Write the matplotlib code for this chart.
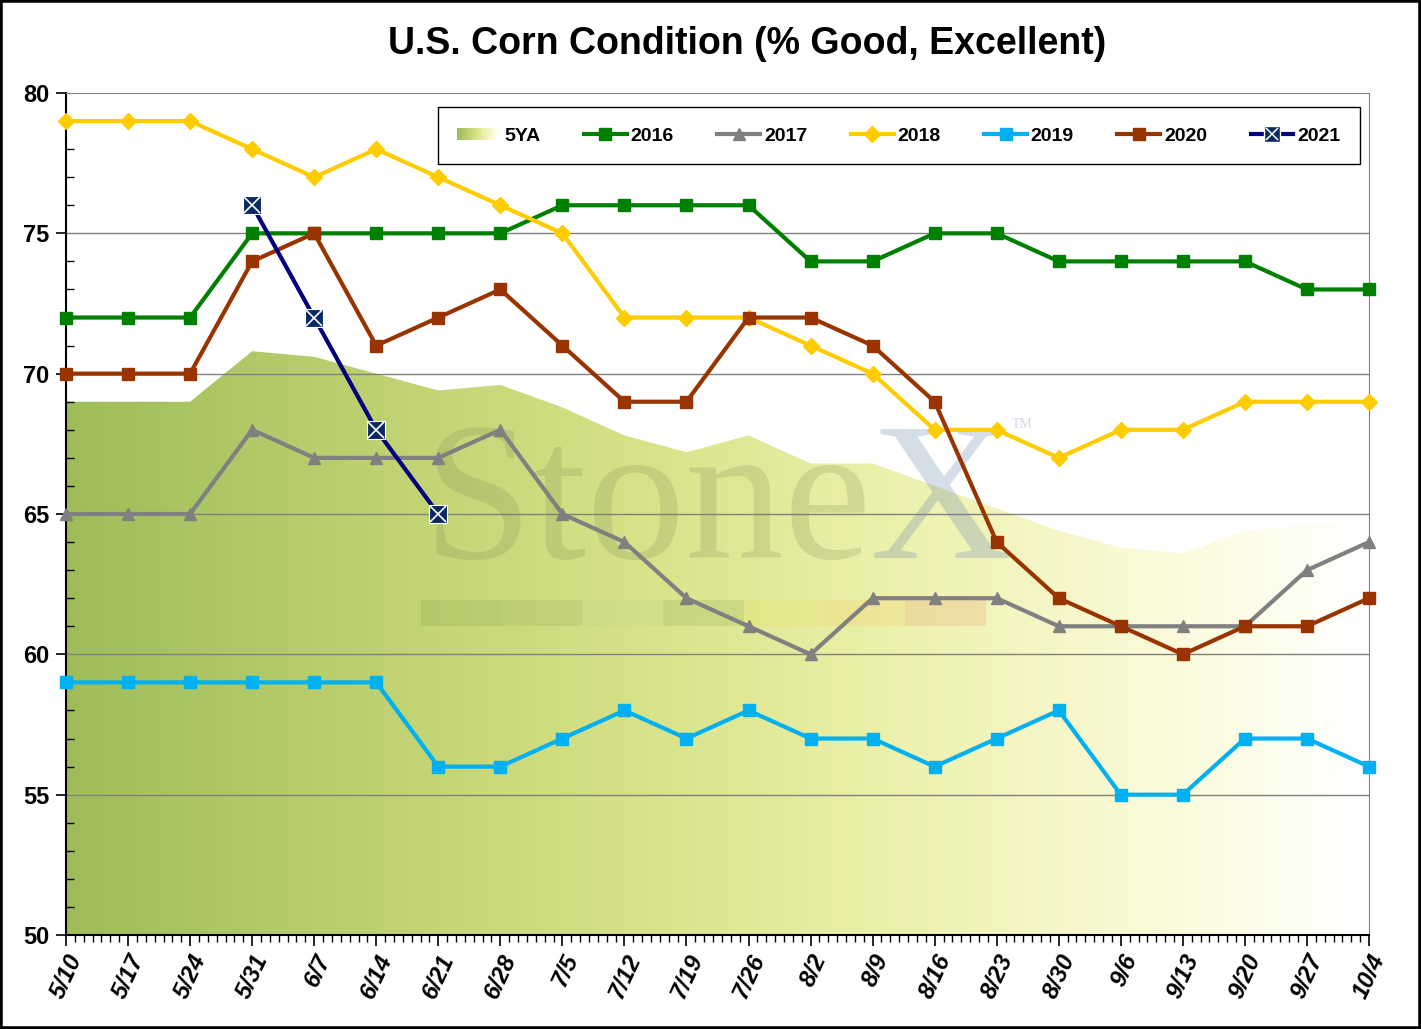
import numpy as np
import matplotlib
matplotlib.use("Agg")
import matplotlib.pyplot as plt
from matplotlib.colors import LinearSegmentedColormap
from matplotlib.patches import Rectangle, Polygon
from matplotlib.legend_handler import HandlerBase
from matplotlib.lines import Line2D
from matplotlib.ticker import MultipleLocator

plt.rcParams['font.family'] = ['Liberation Sans', 'DejaVu Sans']

# weekly dates (crop progress report)
weeks = ['5/10', '5/17', '5/24', '5/31', '6/7', '6/14', '6/21', '6/28', '7/5', '7/12', '7/19',
         '7/26', '8/2', '8/9', '8/16', '8/23', '8/30', '9/6', '9/13', '9/20', '9/27', '10/4']

# % good/excellent per year
avg_5y = [69.0, 69.0, 69.0, 70.8, 70.6, 70.0, 69.4, 69.6, 68.8, 67.8, 67.2,
          67.8, 66.8, 66.8, 66.0, 65.2, 64.4, 63.8, 63.6, 64.4, 64.6, 64.8]
y2016 = [72, 72, 72, 75, 75, 75, 75, 75, 76, 76, 76, 76, 74, 74, 75, 75, 74, 74, 74, 74, 73, 73]
y2017 = [65, 65, 65, 68, 67, 67, 67, 68, 65, 64, 62, 61, 60, 62, 62, 62, 61, 61, 61, 61, 63, 64]
y2018 = [79, 79, 79, 78, 77, 78, 77, 76, 75, 72, 72, 72, 71, 70, 68, 68, 67, 68, 68, 69, 69, 69]
y2019 = [59, 59, 59, 59, 59, 59, 56, 56, 57, 58, 57, 58, 57, 57, 56, 57, 58, 55, 55, 57, 57, 56]
y2020 = [70, 70, 70, 74, 75, 71, 72, 73, 71, 69, 69, 72, 72, 71, 69, 64, 62, 61, 60, 61, 61, 62]
y2021 = [76, 72, 68, 65]
start_2021 = 3  # 5/31

x = np.arange(len(weeks))

# gradient cho vung 5YA (xanh o liu -> trang)
grad = LinearSegmentedColormap.from_list('fiveya', [
    (0.0, (0.62, 0.74, 0.35)),
    (0.30, (0.78, 0.84, 0.47)),
    (0.45, (0.85, 0.89, 0.54)),
    (0.62, (0.92, 0.94, 0.66)),
    (0.78, (0.97, 0.97, 0.80)),
    (0.90, (0.99, 0.99, 0.90)),
    (1.0, (1.0, 1.0, 1.0))])


class GradHandler(HandlerBase):
    def create_artists(self, legend, orig_handle, xdescent, ydescent, width, height, fontsize, trans):
        n = 24
        arts = []
        for i in range(n):
            r = Rectangle((-xdescent + width * i / n, -ydescent + height * 0.05), width / n + 0.3, height * 0.9,
                          facecolor=grad(i / (n - 1)), edgecolor='none', transform=trans)
            arts.append(r)
        return arts


fig = plt.figure(figsize=(14.21, 10.29), dpi=100)
ax = fig.add_axes([66 / 1421, 94 / 1029, 1303 / 1421, 842 / 1029])

# vung 5YA voi gradient
img = ax.imshow(np.linspace(0, 1, 256).reshape(1, -1), cmap=grad, aspect='auto',
                extent=[0, 21, 50, 80], zorder=0.5, interpolation='bilinear')
poly = Polygon(list(zip(x, avg_5y)) + [(21, 50), (0, 50)], closed=True, facecolor='none',
               edgecolor='none', transform=ax.transData)
img.set_clip_path(poly)

for g in [55, 60, 65, 70, 75]:
    ax.axhline(g, color='#808080', lw=1, zorder=1)

# watermark
wm = dict(fontfamily=['Liberation Serif', 'DejaVu Serif'], zorder=1.5, va='baseline')
ax.text(5.75, 63.45, 'Stone', color=(0.45, 0.5, 0.3), alpha=0.2, fontsize=142, **wm)
ax.text(12.95, 63.45, 'X', color=(0.42, 0.52, 0.68), alpha=0.28, fontsize=142, **wm)
ax.text(15.25, 68.05, 'TM', color=(0.42, 0.52, 0.68), alpha=0.3, fontsize=10, **wm)
band_cols = [(0.45, 0.6, 0.25), (0.5, 0.62, 0.3), (0.72, 0.8, 0.58), (0.45, 0.6, 0.25),
             (0.97, 0.86, 0.3), (0.98, 0.74, 0.3), (0.9, 0.5, 0.3)]
for i, c in enumerate(band_cols):
    x0 = (421 - 66) / 62.05 + i * 1.3
    ax.add_patch(Rectangle((x0, 61.0), 1.3, 0.95, facecolor=c, edgecolor='none', alpha=0.18, zorder=1.5))

lw = 3
l16, = ax.plot(x, y2016, color='#008000', lw=lw, marker='s', ms=9, zorder=3, clip_on=False)
l17, = ax.plot(x, y2017, color='#808080', lw=lw, marker='^', ms=9, zorder=3, clip_on=False)
l18, = ax.plot(x, y2018, color='#FFCC00', lw=lw, marker='D', ms=8, zorder=3, clip_on=False)
l19, = ax.plot(x, y2019, color='#00B0F0', lw=lw, marker='s', ms=8, zorder=3, clip_on=False)
l20, = ax.plot(x, y2020, color='#993300', lw=lw, marker='s', ms=8, zorder=3, clip_on=False)
x21 = x[start_2021:start_2021 + len(y2021)]
ax.plot(x21, y2021, color='#000080', lw=lw, zorder=4)
ax.plot(x21, y2021, ls='none', marker='s', ms=13, mfc='#0A2A66', mec='white', mew=0.8, zorder=5)
ax.plot(x21, y2021, ls='none', marker='x', ms=11, mec='white', mew=1.2, zorder=6)

ax.set_xlim(0, 21)
ax.set_ylim(50, 80)
ax.set_xticks(x)
ax.set_xticklabels(weeks, rotation=65, ha='right', rotation_mode='anchor', fontsize=17,
                   fontweight='bold', fontstyle='italic')
ax.xaxis.set_minor_locator(MultipleLocator(1 / 7))
ax.set_yticks([50, 55, 60, 65, 70, 75, 80])
ax.yaxis.set_minor_locator(MultipleLocator(1))
for lab in ax.get_yticklabels():
    lab.set_fontsize(17)
    lab.set_fontweight('bold')
ax.tick_params(axis='y', which='major', direction='out', length=7, width=1.2, pad=5)
ax.tick_params(axis='y', which='minor', direction='in', length=6, width=1)
ax.tick_params(axis='x', which='major', direction='out', length=8, width=1.2, pad=3)
ax.tick_params(axis='x', which='minor', direction='out', length=5, width=1)
ax.spines['left'].set_color('black')
ax.spines['bottom'].set_color('black')
ax.spines['left'].set_linewidth(1.5)
ax.spines['bottom'].set_linewidth(1.5)
ax.spines['top'].set_color('#808080')
ax.spines['right'].set_color('#808080')

# legend
h21 = Line2D([], [], color='#000080', lw=lw, marker='s', ms=11, mfc='#0A2A66', mec='white')
h21x = Line2D([], [], ls='none', marker='x', ms=9, mec='white', mew=1.1)
h = [Rectangle((0, 0), 1, 1), l16, l17, l18, l19, l20, (h21, h21x)]
labs = ['5YA', '2016', '2017', '2018', '2019', '2020', '2021']
leg = ax.legend(h, labs, handler_map={Rectangle: GradHandler()}, ncol=7, loc='lower left',
                bbox_to_anchor=(0.2855, 0.9157, 0.7075, 0.07), mode='expand', borderaxespad=0,
                fancybox=False, edgecolor='black', framealpha=1, borderpad=1.0,
                prop={'weight': 'bold', 'size': 14}, handlelength=2.2, handletextpad=0.2,
                columnspacing=1.0)
leg.get_frame().set_linewidth(1)
leg.set_zorder(10)

fig.text(0.526, 0.957, 'U.S. Corn Condition (% Good, Excellent)', ha='center', va='center',
         fontsize=27, fontweight='bold')

fig.patches.append(Rectangle((0, 0), 1, 1, transform=fig.transFigure, fill=False,
                             edgecolor='black', lw=4, zorder=100))

fig.savefig('out.png', dpi=100)
